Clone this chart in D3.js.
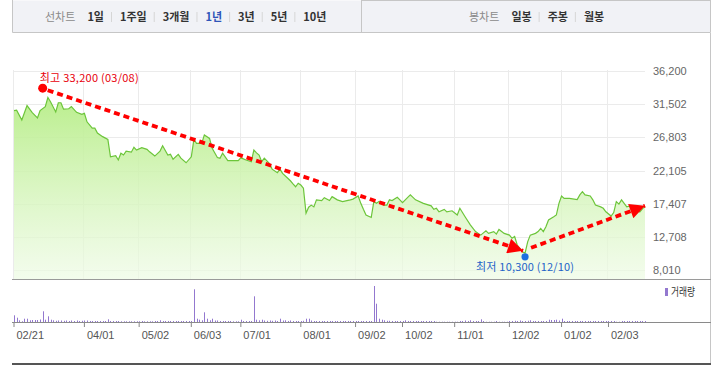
<!DOCTYPE html>
<html>
<head>
<meta charset="utf-8">
<script src="https://cdn.jsdelivr.net/npm/d3@7"></script>
<style>
  body { margin: 0; background: #fff; }
  svg { display: block; font-family: "Noto Sans CJK KR", "Noto Sans", sans-serif; }
</style>
</head>
<body>
<svg id="chart" width="714" height="365"></svg>
<script>
// Tabs in the top bar
const lineTabs = ['1일', '1주일', '3개월', '1년', '3년', '5년', '10년'];
const candleTabs = ['일봉', '주봉', '월봉'];
const activeTab = '1년';

// X ticks (trading-day index from 2024-02-21)
const tickLabels = ['02/21', '04/01', '05/02', '06/03', '07/01', '08/01', '09/02', '10/02', '11/01', '12/02', '01/02', '02/03'];
const tickDays = [0, 27, 48, 68, 87, 110, 131, 149, 169, 190, 210, 228];
const lastDay = 242;

// Y ticks
const priceTicks = [8010, 12708, 17407, 22105, 26803, 31502, 36200];

// Close prices (trading-day index, price)
const closeDays = [0, 1, 3, 5, 7, 9, 10, 12, 13, 14, 16, 17, 18, 19, 21, 22, 24, 26, 27, 28,
  30, 31, 32, 34, 36, 37, 39, 40, 41, 42, 43, 45, 46, 47, 49, 51, 52, 54, 56, 57,
  59, 60, 61, 63, 64, 66, 68, 69, 70, 72, 73, 75, 76, 78, 79, 80, 82, 84, 86, 87,
  89, 91, 92, 93, 94, 95, 96, 98, 99, 101, 102, 103, 105, 106, 107, 108, 109, 110, 111, 112,
  113, 114, 115, 116, 118, 119, 121, 122, 124, 126, 129, 130, 132, 133, 134, 135, 137, 138, 139, 140,
  142, 143, 144, 145, 147, 148, 149, 151, 152, 154, 157, 160, 161, 162, 163, 165, 166, 168, 170, 171,
  173, 175, 177, 179, 181, 182, 184, 185, 186, 188, 190, 191, 192, 193, 195, 196, 197, 198, 200, 201,
  202, 203, 204, 205, 207, 208, 209, 210, 211, 213, 216, 217, 218, 219, 221, 222, 223, 225, 226, 227,
  229, 230, 231, 232, 233, 234, 235, 236, 238, 240, 242];
const closePrices = [30600, 30650, 29250, 31300, 30300, 29550, 30600, 31150, 32450, 31850, 30400, 31700, 31700, 30800, 30850, 31150, 30350, 30050, 30200, 29000,
  28100, 28100, 27400, 26900, 26500, 24050, 24200, 23600, 24550, 24300, 24850, 24700, 25400, 25000, 25350, 25100, 24750, 24150, 24850, 25600,
  24300, 24400, 23700, 24400, 23850, 23200, 24050, 26500, 25950, 25950, 27150, 26650, 25250, 23950, 23850, 24550, 23500, 23500, 23500, 23900,
  23600, 23350, 25000, 24600, 24300, 23350, 23850, 23100, 22300, 21800, 22300, 21700, 21000, 20650, 20200, 19800, 20300, 20050, 19600, 16050,
  16900, 17200, 16950, 17950, 17850, 18250, 17850, 18400, 17950, 17700, 17950, 18050, 18500, 17450, 16600, 15800, 15450, 17700, 17450, 17700,
  17200, 17200, 17950, 17850, 18300, 17950, 17550, 18300, 18650, 17950, 17450, 17100, 16600, 16750, 16250, 16600, 16250, 16400, 15800, 16750,
  15550, 14400, 13450, 12950, 13550, 13200, 13450, 13100, 13750, 13200, 12950, 12500, 12750, 11550, 10600, 10400, 12000, 12950, 13200, 13450,
  13900, 13450, 14150, 15100, 15550, 15800, 17450, 18500, 18150, 18150, 18000, 18650, 19100, 18650, 18500, 17950, 17200, 16950, 16750, 16250,
  15650, 16150, 17700, 17350, 17950, 17450, 16950, 17050, 16750, 16250, 17100];

// Daily volume (relative units), index = trading day
const volumes = [
  6.7, 4.3, 1.7, 0.7, 3.3, 3.3, 1.7, 2, 2, 2,
  2.5, 10.7, 2.3, 5.7, 2.3, 1.7, 1.2, 1.5, 1.5, 1.2,
  1.5, 1, 1.5, 1, 1.5, 1, 1.2, 1.5, 1.5, 1,
  1, 1, 1, 1, 1, 1, 2.7, 1, 1, 1,
  1, 0.7, 0.7, 0.7, 0.7, 0.7, 0.7, 0.7, 0.7, 1,
  0.7, 0.7, 0.7, 0.7, 1, 1, 1.7, 1, 1, 1,
  1, 1, 1, 1, 1, 1, 1, 1, 1, 32.7,
  3.3, 2.3, 1.7, 9.7, 3.3, 1.7, 3.3, 1.5, 1.5, 1,
  1, 1, 1, 1, 0.7, 0.7, 0.7, 2.3, 1, 1,
  1, 1, 25.7, 2.3, 1.7, 2.3, 1.5, 1.2, 1.5, 1.2,
  1.5, 1, 3.3, 1.5, 1.7, 1, 1.5, 1, 1, 1,
  1, 1.2, 3.3, 3.3, 1.5, 1, 1, 1, 1, 1,
  1, 1, 1, 1, 1, 1, 1, 1, 1, 1,
  1, 1, 1, 1, 1, 1, 1, 1, 36, 18.3,
  3.3, 2.3, 1.7, 1.2, 1.2, 1, 1, 1, 1, 1,
  1.7, 1, 1, 1, 1, 1, 1, 1, 1, 1,
  1, 1, 0.3, 0.3, 0.3, 0.3, 0.3, 0.3, 0.3, 0.3,
  0.3, 1, 1, 1.5, 1, 1.7, 1, 1, 1, 2.7,
  1, 0.3, 0.3, 0.3, 0.3, 1, 0.3, 0.3, 0.3, 0.3,
  1, 1, 1.2, 1, 1.5, 1, 1, 1.2, 1.7, 1,
  1, 1, 1, 1, 1, 2.3, 2, 2, 2.3, 1.5,
  3.3, 1, 1, 1, 1, 1, 1, 1, 1, 1,
  1, 1, 1, 1, 1, 1, 1, 1, 1, 1,
  1, 0.3, 0.3, 1, 1, 1, 1, 1, 1, 1,
  1, 1, 1];

// High / low markers
const high = { day: 11, price: 33200, date: '03/08' };
const low = { day: 196, price: 10300, date: '12/10' };

const svg = d3.select('#chart');
const fmt = d3.format(',');

// Scales
const x = d3.scaleLinear().domain([0, lastDay]).range([14, 645]);
const y = d3.scaleLinear().domain([8010, 36200]).range([270, 71]);
const yv = d3.scaleLinear().domain([0, 42]).range([322, 280]);

const plotLeft = 13, plotRight = 645, priceBottom = 279.5;

// ---- Top tab bar ----
const bar = svg.append('g');
bar.append('rect')
  .attr('x', 12.5).attr('y', 0.5).attr('width', 698).attr('height', 32)
  .attr('fill', '#f1f2f6').attr('stroke', 'none');
bar.append('path')
  .attr('d', 'M12.5,0V32.5H710.5V0 M361.5,0V32.5 M361.5,0.5H710.5')
  .attr('fill', 'none').attr('stroke', '#c6c6c6');

function layoutTabs (title, tabs, startX) {
  let cx = startX;
  const t = bar.append('text')
    .attr('x', cx).attr('y', 21)
    .style('font-size', '11px').style('fill', '#8a8a8a')
    .text(title);
  cx += t.node().getComputedTextLength() + 12;
  tabs.forEach((name, i) => {
    const tt = bar.append('text')
      .attr('x', cx).attr('y', 21)
      .style('font-size', '11px').style('font-weight', 'bold')
      .style('fill', name === activeTab ? '#2f55b8' : '#333')
      .text(name);
    cx += tt.node().getComputedTextLength();
    if (i < tabs.length - 1) {
      bar.append('line')
        .attr('x1', cx + 7.5).attr('x2', cx + 7.5)
        .attr('y1', 12).attr('y2', 22)
        .attr('stroke', '#d6d6d6');
      cx += 16;
    }
  });
}
layoutTabs('선차트', lineTabs, 45);
layoutTabs('봉차트', candleTabs, 469);

// ---- Frame lines ----
svg.append('line').attr('x1', 710.5).attr('x2', 710.5).attr('y1', 33).attr('y2', 364)
  .attr('stroke', '#c6c6c6');
svg.append('rect').attr('x', 12).attr('y', 363).attr('width', 699).attr('height', 2)
  .attr('fill', '#555');

// ---- Grid ----
const grid = svg.append('g');
grid.selectAll('line.h')
  .data(priceTicks)
  .join('line')
  .attr('class', 'h')
  .attr('x1', plotLeft).attr('x2', plotRight)
  .attr('y1', d => Math.round(y(d)) + 0.5).attr('y2', d => Math.round(y(d)) + 0.5)
  .attr('stroke', '#ebebeb');
grid.selectAll('line.v')
  .data(tickDays)
  .join('line')
  .attr('class', 'v')
  .attr('x1', d => Math.round(x(d)) - 0.5).attr('x2', d => Math.round(x(d)) - 0.5)
  .attr('y1', 70).attr('y2', priceBottom)
  .attr('stroke', '#ebebeb');

// ---- Price area + line ----
const defs = svg.append('defs');
const grad = defs.append('linearGradient')
  .attr('id', 'fillGrad')
  .attr('gradientUnits', 'userSpaceOnUse')
  .attr('x1', 0).attr('x2', 0).attr('y1', 95).attr('y2', priceBottom);
grad.append('stop').attr('offset', 0).attr('stop-color', '#b6ed86').attr('stop-opacity', 0.95);
grad.append('stop').attr('offset', 1).attr('stop-color', '#eefbe5').attr('stop-opacity', 0.7);

const series = closeDays.map((d, i) => [d, closePrices[i]]);

const area = d3.area()
  .x(d => x(d[0]))
  .y0(priceBottom)
  .y1(d => y(d[1]));
svg.append('path')
  .datum(series)
  .attr('d', area)
  .attr('fill', 'url(#fillGrad)');

const line = d3.line().x(d => x(d[0])).y(d => y(d[1]));
svg.append('path')
  .datum(series)
  .attr('d', line)
  .attr('fill', 'none')
  .attr('stroke', '#6cc53a')
  .attr('stroke-width', 1.2);

// ---- Right price axis ----
const yAxis = svg.append('g')
  .attr('transform', `translate(${plotRight},0)`)
  .call(d3.axisRight(y).tickValues(priceTicks).tickFormat(fmt).tickSize(0).tickPadding(8));
yAxis.select('.domain').remove();
yAxis.selectAll('text')
  .style('font-family', '"Liberation Sans", Arial, sans-serif')
  .style('font-size', '11px').attr('fill', '#666');

// ---- Price / volume separator ----
svg.append('line').attr('x1', 12).attr('x2', 711).attr('y1', priceBottom).attr('y2', priceBottom)
  .attr('stroke', '#9a9a9a');

// ---- Volume bars ----
svg.append('g')
  .selectAll('rect')
  .data(volumes)
  .join('rect')
  .attr('x', (d, i) => Math.round(x(i)))
  .attr('width', 1)
  .attr('y', d => yv(d))
  .attr('height', d => yv(0) - yv(d))
  .attr('fill', '#9378cf');

// Volume legend
svg.append('rect').attr('x', 665).attr('y', 288).attr('width', 3).attr('height', 8).attr('fill', '#9378cf');
svg.append('text').attr('x', 671).attr('y', 296)
  .attr('textLength', 24).attr('lengthAdjust', 'spacingAndGlyphs')
  .style('font-size', '11px').style('fill', '#333')
  .text('거래량');

// ---- Bottom date axis ----
const xAxis = svg.append('g')
  .attr('transform', 'translate(0,322)')
  .call(d3.axisBottom(x).tickValues(tickDays).tickFormat((d, i) => tickLabels[i]).tickSize(5).tickPadding(4));
xAxis.select('.domain').remove();
xAxis.selectAll('.tick line').attr('stroke', '#888').attr('transform', 'translate(-0.5,0)');
xAxis.selectAll('text')
  .attr('text-anchor', 'start').attr('dx', 2)
  .style('font-family', '"Liberation Sans", Arial, sans-serif')
  .style('font-size', '11px').attr('fill', '#555');
svg.append('line').attr('x1', 12).attr('x2', 711).attr('y1', 322.5).attr('y2', 322.5)
  .attr('stroke', '#8a8a8a');

// ---- High / low annotation ----
const hx = x(high.day), hy = y(high.price) - 4;
const lx = x(low.day), ly = y(low.price);
const ex = x(lastDay), ey = y(closePrices[closePrices.length - 1]);

defs.append('marker')
  .attr('id', 'arrow')
  .attr('viewBox', '0 0 10 10')
  .attr('refX', 10).attr('refY', 5)
  .attr('markerWidth', 4.2).attr('markerHeight', 4)
  .attr('markerUnits', 'strokeWidth')
  .attr('orient', 'auto')
  .append('path')
  .attr('d', 'M0,0L10,5L0,10Z')
  .attr('fill', '#ff0000');

const arrows = [
  [[hx + 5, hy + 2], [lx - 2, ly - 3]],
  [[lx + 6, ly - 6], [ex, ey]]
];
svg.append('g')
  .selectAll('path')
  .data(arrows)
  .join('path')
  .attr('d', d => d3.line()(d))
  .attr('fill', 'none')
  .attr('stroke', '#ff0000')
  .attr('stroke-width', 3.8)
  .attr('stroke-dasharray', '6,4')
  .attr('marker-end', 'url(#arrow)');

svg.append('circle').attr('cx', hx).attr('cy', hy).attr('r', 4.5).attr('fill', '#ff0000');
svg.append('circle').attr('cx', lx).attr('cy', ly + 3).attr('r', 3.6).attr('fill', '#1c6fe0');

svg.append('text')
  .attr('x', hx - 3).attr('y', 82)
  .attr('textLength', 99).attr('lengthAdjust', 'spacing')
  .style('font-size', '11px').style('fill', '#e8000b')
  .text(`최고 ${fmt(high.price)} (${high.date})`);
svg.append('text')
  .attr('x', lx - 49).attr('y', ly + 17)
  .attr('textLength', 98).attr('lengthAdjust', 'spacing')
  .style('font-size', '11px').style('fill', '#1d62c8')
  .text(`최저 ${fmt(low.price)} (${low.date})`);
</script>
</body>
</html>
